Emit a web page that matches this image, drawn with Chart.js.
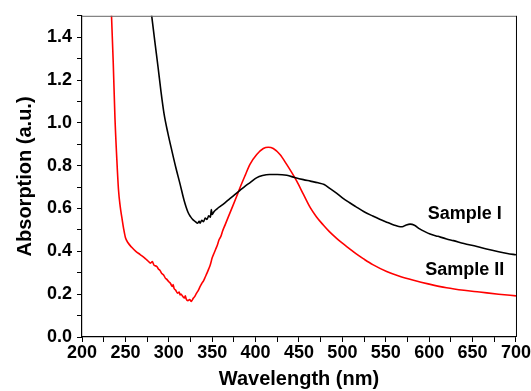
<!DOCTYPE html>
<html>
<head>
<meta charset="utf-8">
<script src="https://cdn.jsdelivr.net/npm/chart.js@4.4.1/dist/chart.umd.min.js"></script>
<style>
  html, body { margin: 0; padding: 0; background: #fff; }
  canvas { display: block; }
</style>
</head>
<body>
<canvas id="absChart" width="531" height="391"></canvas>
<script>
// Sample I (black)
var wlSample1 = [276, 280.3, 284, 287.6, 291, 294.5, 299, 303.7, 308.3, 313, 317.5, 322, 325, 328, 331, 333, 335, 336, 338, 340, 342, 344, 346, 348, 349, 350, 352, 356, 360, 365, 370, 376, 382, 388, 394, 401, 408, 416, 425, 436, 445, 455, 463, 472, 479, 485, 492, 500, 508, 515, 525, 535, 543, 552, 560, 565, 569, 573, 578, 583, 589, 595, 601, 610, 620, 628, 640, 655, 666, 680, 690, 700];
var absSample1 = [1.65, 1.50, 1.377, 1.261, 1.146, 1.043, 0.951, 0.867, 0.788, 0.714, 0.640, 0.584, 0.562, 0.547, 0.538, 0.531, 0.540, 0.532, 0.545, 0.538, 0.556, 0.549, 0.566, 0.56, 0.595, 0.572, 0.585, 0.60, 0.612, 0.628, 0.645, 0.665, 0.685, 0.705, 0.722, 0.743, 0.754, 0.759, 0.759, 0.755, 0.745, 0.735, 0.728, 0.72, 0.712, 0.695, 0.675, 0.65, 0.628, 0.61, 0.585, 0.565, 0.55, 0.535, 0.522, 0.516, 0.515, 0.522, 0.527, 0.522, 0.505, 0.492, 0.481, 0.47, 0.458, 0.45, 0.437, 0.423, 0.411, 0.398, 0.39, 0.384];

// Sample II (red)
var wlSample2 = [231, 234, 236, 238, 240, 242, 244, 246, 248, 250, 253, 257, 262, 267, 272, 276, 279, 281, 283, 286, 288, 290, 292, 294, 296, 298, 300, 302, 304, 305, 306, 308, 310, 312, 313, 314, 316, 318, 319, 320, 322, 324, 326, 328, 330, 332, 334, 336, 338, 340, 342, 344, 346, 348, 350, 352, 354, 356, 358, 360, 362, 365, 368, 372, 378, 382, 388, 393.5, 401.3, 408.9, 414.6, 420.4, 428.1, 435.8, 447.4, 455, 463, 470, 478, 485, 493, 500, 508, 516, 524, 535, 551, 565, 582, 600, 620, 640, 658, 680, 700];
var absSample2 = [1.8, 1.50, 1.28, 1.02, 0.84, 0.69, 0.61, 0.556, 0.505, 0.465, 0.44, 0.42, 0.40, 0.385, 0.37, 0.355, 0.345, 0.352, 0.335, 0.33, 0.318, 0.31, 0.296, 0.29, 0.275, 0.268, 0.258, 0.25, 0.236, 0.245, 0.228, 0.218, 0.205, 0.21, 0.196, 0.2, 0.19, 0.182, 0.192, 0.178, 0.17, 0.175, 0.166, 0.18, 0.19, 0.205, 0.218, 0.235, 0.25, 0.262, 0.28, 0.298, 0.318, 0.34, 0.37, 0.39, 0.41, 0.43, 0.455, 0.47, 0.495, 0.525, 0.555, 0.595, 0.655, 0.697, 0.755, 0.806, 0.852, 0.880, 0.886, 0.880, 0.852, 0.806, 0.728, 0.667, 0.604, 0.562, 0.523, 0.492, 0.462, 0.438, 0.413, 0.388, 0.366, 0.338, 0.306, 0.285, 0.265, 0.247, 0.23, 0.218, 0.21, 0.2, 0.192];

var seriesNames = ["Sample I", "Sample II"];
var seriesColors = ["#000000", "#ff0000"];
// where the two text labels sit, in data units
var labelWl = [641, 641];
var labelAbs = [0.552, 0.291];

var xMin = 200, xMax = 700, xStep = 25;
var yMin = 0, yMax = 1.5, yStep = 0.1;

var FONT = "'Liberation Sans', Arial, Helvetica, sans-serif";

function toPoints(xs, ys) {
	return xs.map(function(x, i){ return {x: x, y: ys[i]}; });
}

// top + right frame of the box, and the sample labels
var framePlugin = {
	id: 'frame',
	afterDatasetsDraw: function(chart) {
		var ctx = chart.ctx, a = chart.chartArea;
		ctx.save();
		ctx.lineWidth = 1;
		ctx.strokeStyle = '#666';
		ctx.beginPath();
		ctx.moveTo(a.left, a.top + 0.5);
		ctx.lineTo(a.right, a.top + 0.5);
		ctx.stroke();
		ctx.strokeStyle = '#000';
		ctx.beginPath();
		ctx.moveTo(a.right + 0.5, a.top);
		ctx.lineTo(a.right + 0.5, a.bottom);
		ctx.stroke();

		var xs = chart.scales.x, ys = chart.scales.y;
		ctx.fillStyle = '#000';
		ctx.font = 'bold 18px ' + FONT;
		ctx.textAlign = 'center';
		ctx.textBaseline = 'alphabetic';
		seriesNames.forEach(function(name, i){
			ctx.fillText(name, xs.getPixelForValue(labelWl[i]), ys.getPixelForValue(labelAbs[i]));
		});
		ctx.restore();
	}
};

var ctx = document.getElementById('absChart').getContext('2d');

var config = {
	type: 'line',
	data: {
		datasets: [
			{
				label: seriesNames[0],
				data: toPoints(wlSample1, absSample1),
				borderColor: seriesColors[0],
				borderWidth: 1.6,
				pointRadius: 0,
				cubicInterpolationMode: 'monotone'
			},
			{
				label: seriesNames[1],
				data: toPoints(wlSample2, absSample2),
				borderColor: seriesColors[1],
				borderWidth: 1.6,
				pointRadius: 0,
				cubicInterpolationMode: 'monotone'
			}
		]
	},
	options: {
		responsive: false,
		animation: false,
		devicePixelRatio: 1,
		layout: { padding: { left: 0, right: 15, top: 14, bottom: 0 } },
		plugins: {
			legend: false,
			tooltip: { enabled: false }
		},
		scales: {
			x: {
				type: 'linear',
				min: xMin,
				max: xMax,
				afterFit: function(scale){ scale.height = 54; },
				ticks: {
					stepSize: xStep,
					autoSkip: false,
					maxRotation: 0,
					padding: 0,
					color: '#000',
					font: { family: FONT, size: 18, weight: 'bold' },
					callback: function(v){ return v % 50 === 0 ? String(v) : ''; }
				},
				grid: {
					drawOnChartArea: false,
					tickLength: 5,
					tickColor: '#000',
					tickWidth: 1
				},
				border: { color: '#000', width: 1.2 },
				title: {
					display: true,
					text: 'Wavelength (nm)',
					color: '#000',
					padding: { top: 0, bottom: 0 },
					font: { family: FONT, size: 20, weight: 'bold' }
				}
			},
			y: {
				min: yMin,
				max: yMax,
				afterFit: function(scale){ scale.width = 82; },
				ticks: {
					stepSize: yStep,
					autoSkip: false,
					padding: 5,
					color: '#000',
					font: { family: FONT, size: 18, weight: 'bold' },
					callback: function(v){
						var n = Math.round(v * 10);
						return n % 2 === 0 ? (n / 10).toFixed(1) : '';
					}
				},
				grid: {
					drawOnChartArea: false,
					tickLength: 5,
					tickColor: '#000',
					tickWidth: 1
				},
				border: { color: '#000', width: 1.2 },
				title: {
					display: true,
					text: 'Absorption (a.u.)',
					color: '#000',
					padding: { top: 13, bottom: 0 },
					font: { family: FONT, size: 20, weight: 'bold' }
				}
			}
		}
	},
	plugins: [framePlugin]
};

var absChart = new Chart(ctx, config);
</script>
</body>
</html>
